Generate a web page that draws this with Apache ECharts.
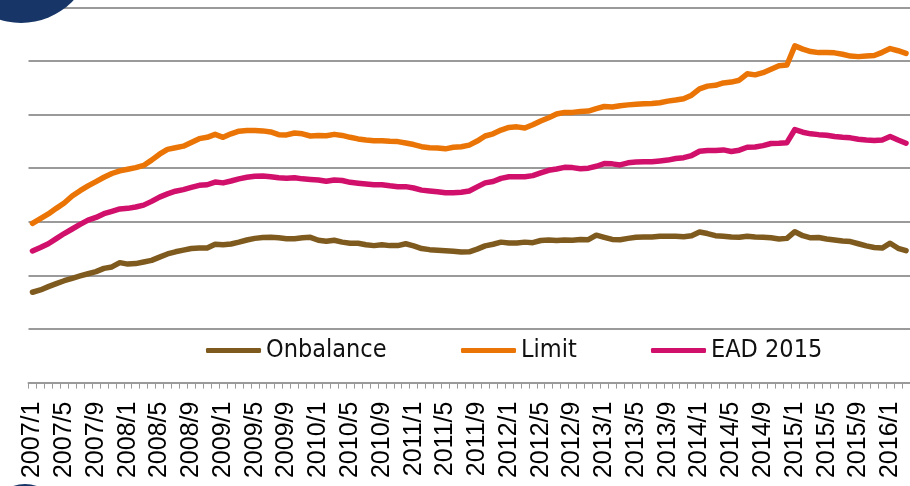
<!DOCTYPE html>
<html>
<head>
<meta charset="utf-8">
<script src="https://cdn.jsdelivr.net/npm/echarts@6/dist/echarts.min.js"></script>
<style>
  html, body { margin: 0; padding: 0; background: #ffffff; }
  #chart { width: 910px; height: 486px; }
</style>
</head>
<body>
<div id="chart"></div>
<script>
// Monthly categories 2007/1 .. 2016/3
const startYear = 2007;
const monthCount = 111;
const months = [];
for (let k = 0; k < monthCount; k++) {
  const y = startYear + Math.floor(k / 12);
  const m = (k % 12) + 1;
  months.push(y + '/' + m);
}

const seriesNames = ['Onbalance', 'Limit', 'EAD 2015'];

const onbalance = [
  16.85, 17.28, 17.9, 18.46, 19.0, 19.45, 19.89, 20.3, 20.7, 21.3,
  21.57, 22.37, 22.1, 22.2, 22.5, 22.8, 23.4, 24.0, 24.4, 24.7,
  25.0, 25.1, 25.1, 25.8, 25.7, 25.85, 26.2, 26.6, 26.9, 27.05,
  27.1, 27.0, 26.85, 26.85, 27.0, 27.1, 26.55, 26.35, 26.55, 26.2,
  26.0, 26.0, 25.7, 25.55, 25.7, 25.55, 25.55, 25.9, 25.5, 25.0,
  24.8, 24.7, 24.6, 24.5, 24.35, 24.4, 24.9, 25.5, 25.8, 26.2,
  26.05, 26.05, 26.2, 26.1, 26.5, 26.6, 26.5, 26.6, 26.55, 26.7,
  26.65, 27.5, 27.1, 26.7, 26.65, 26.9, 27.1, 27.15, 27.15, 27.3,
  27.3, 27.3, 27.2, 27.4, 28.1, 27.8, 27.4, 27.3, 27.15, 27.1,
  27.3, 27.15, 27.1, 27.0, 26.8, 26.9, 28.15, 27.4, 27.0, 27.05,
  26.8, 26.6, 26.4, 26.3, 25.9, 25.5, 25.2, 25.1, 26.0, 25.05,
  24.6
];

const limit = [
  29.7, 30.6, 31.45, 32.5, 33.5, 34.8, 35.8, 36.7, 37.5, 38.3,
  39.0, 39.5, 39.8, 40.1, 40.5, 41.5, 42.6, 43.5, 43.8, 44.1,
  44.8, 45.5, 45.75, 46.3, 45.75, 46.4, 46.9, 47.0, 47.0, 46.95,
  46.75, 46.25, 46.2, 46.55, 46.4, 46.0, 46.1, 46.05, 46.3, 46.1,
  45.75, 45.45, 45.25, 45.1, 45.1, 45.0, 44.95, 44.7, 44.4, 44.0,
  43.8, 43.75, 43.6, 43.9, 44.0, 44.3, 45.05, 46.0, 46.4, 47.1,
  47.6, 47.7, 47.5, 48.1, 48.8, 49.4, 50.1, 50.4, 50.4, 50.55,
  50.65, 51.1, 51.5, 51.4, 51.65, 51.8, 51.9, 52.0, 52.05, 52.2,
  52.5, 52.7, 52.95, 53.6, 54.8, 55.3, 55.45, 55.9, 56.05, 56.4,
  57.6, 57.4, 57.8, 58.45, 59.1, 59.25, 62.8, 62.2, 61.75, 61.55,
  61.55, 61.5, 61.25, 60.9, 60.8, 60.9, 61.0, 61.6, 62.3, 61.9,
  61.4
];

const ead2015 = [
  24.55, 25.2, 25.9, 26.85, 27.8, 28.65, 29.5, 30.3, 30.8, 31.5,
  31.95, 32.4, 32.5, 32.75, 33.1, 33.8, 34.6, 35.2, 35.7, 36.0,
  36.4, 36.8, 36.9, 37.4, 37.25, 37.6, 38.0, 38.3, 38.5, 38.55,
  38.4, 38.2, 38.1, 38.2, 38.0, 37.9, 37.8, 37.55, 37.8, 37.7,
  37.35, 37.2, 37.05, 36.9, 36.9, 36.7, 36.55, 36.55, 36.3, 35.9,
  35.75, 35.6, 35.4, 35.4, 35.5, 35.75, 36.5, 37.25, 37.5, 38.1,
  38.4, 38.4, 38.4, 38.6, 39.1, 39.6, 39.85, 40.15, 40.1, 39.9,
  40.0, 40.35, 40.85, 40.8, 40.6, 41.0, 41.15, 41.2, 41.2, 41.35,
  41.5, 41.8, 41.95, 42.35, 43.15, 43.3, 43.3, 43.4, 43.1, 43.35,
  43.9, 43.95, 44.2, 44.6, 44.65, 44.75, 47.2, 46.7, 46.4, 46.25,
  46.15, 45.9, 45.75, 45.65, 45.4, 45.25, 45.15, 45.25, 45.9, 45.25,
  44.65
];

const colors = ['#7f5a1f', '#ea7405', '#d1106c'];
const navy = '#173667';
const legendFont = "'DejaVu Sans Condensed', 'DejaVu Sans', sans-serif";

function legendFor(name, left) {
  return {
    data: [name],
    left: left,
    top: 338,
    icon: 'roundRect',
    itemWidth: 55,
    itemHeight: 5,
    padding: 0,
    textStyle: { fontFamily: legendFont, fontSize: 25, color: '#111111' }
  };
}

const chart = echarts.init(document.getElementById('chart'), null, { renderer: 'canvas' });

chart.setOption({
  animation: false,
  backgroundColor: '#ffffff',
  color: colors,
  grid: { left: 28.5, right: -0.5, top: 7.3, bottom: 103.4, containLabel: false },
  legend: [
    legendFor(seriesNames[0], 206),
    legendFor(seriesNames[1], 461),
    legendFor(seriesNames[2], 651)
  ],
  xAxis: {
    type: 'category',
    data: months,
    boundaryGap: true,
    axisLine: { show: true, lineStyle: { color: '#9a9a9a', width: 2 } },
    axisTick: { show: true, interval: 0, length: 6, lineStyle: { color: '#9a9a9a', width: 1 } },
    axisLabel: {
      interval: 3,
      rotate: 90,
      margin: 19,
      fontFamily: "'Liberation Sans', Arial, sans-serif",
      fontSize: 25,
      color: '#000000'
    }
  },
  yAxis: {
    type: 'value',
    min: 0,
    max: 70,
    interval: 10,
    axisLine: { show: false },
    axisTick: { show: false },
    axisLabel: { show: false },
    splitLine: { show: true, lineStyle: { color: '#9a9a9a', width: 2 } }
  },
  series: [
    { name: seriesNames[0], data: onbalance },
    { name: seriesNames[1], data: limit },
    { name: seriesNames[2], data: ead2015 }
  ].map(s => ({
    name: s.name,
    type: 'line',
    data: s.data,
    symbol: 'none',
    smooth: false,
    lineStyle: { width: 5.5, cap: 'round', join: 'round' }
  })),
  graphic: [
    { type: 'circle', shape: { cx: 21, cy: -49, r: 72 }, style: { fill: navy }, z: 100 },
    { type: 'circle', shape: { cx: 25, cy: 520, r: 36 }, style: { fill: navy }, z: 100 }
  ]
});
</script>
</body>
</html>
